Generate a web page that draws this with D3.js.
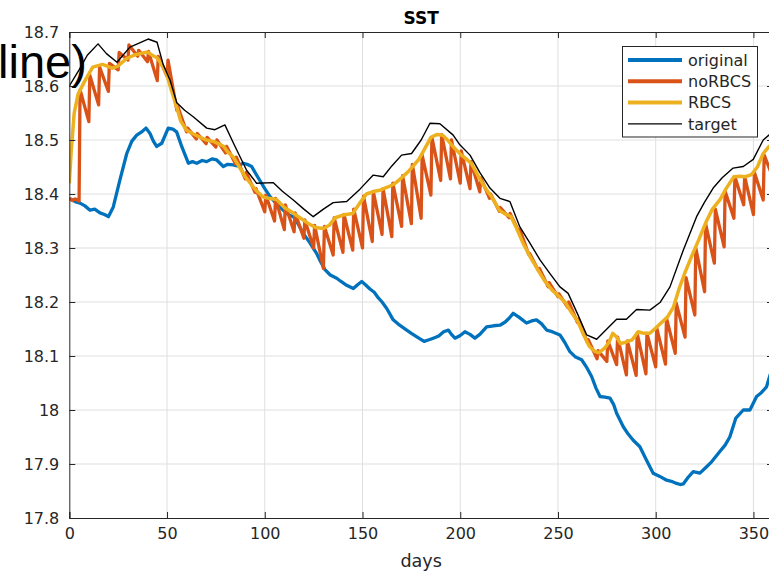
<!DOCTYPE html>
<html><head><meta charset="utf-8">
<script src="https://cdn.jsdelivr.net/npm/d3@7"></script>
<style>body{margin:0;background:#fff;overflow:hidden}svg{display:block}</style>
</head><body>
<svg id="chart" width="769" height="572"></svg>
<script>
// ---------- data ----------
const xTicks = [0, 50, 100, 150, 200, 250, 300, 350];
const yTicks = [17.8, 17.9, 18, 18.1, 18.2, 18.3, 18.4, 18.5, 18.6, 18.7];
const seriesNames = ["original", "noRBCS", "RBCS", "target"];
const seriesColors = ["#0072BD", "#D95319", "#EDB120", "#000000"];

const original = [[0,18.392],[3,18.386],[5.5,18.383],[8,18.378],[10.6,18.37],[13,18.372],[15.7,18.365],[18,18.362],[20,18.358],[22.5,18.376],[25.9,18.426],[29.4,18.475],[32,18.498],[34.5,18.509],[37,18.515],[39.2,18.522],[41.3,18.512],[43,18.498],[44.7,18.488],[47.3,18.494],[50.6,18.522],[53,18.52],[54.9,18.515],[57.5,18.488],[60.9,18.457],[63,18.46],[65.2,18.457],[68,18.462],[70.3,18.46],[73,18.465],[75.4,18.463],[78.8,18.451],[81,18.455],[83.9,18.454],[86,18.452],[89,18.457],[91,18.455],[93.3,18.451],[95,18.44],[97.5,18.425],[100,18.41],[102.7,18.395],[106,18.382],[109.5,18.37],[112,18.362],[114.6,18.358],[117,18.345],[119.7,18.327],[123,18.31],[126.5,18.29],[128.5,18.275],[130.8,18.26],[133.5,18.25],[136.8,18.244],[139,18.238],[141.9,18.231],[145.3,18.225],[147.5,18.232],[149.6,18.238],[151.5,18.232],[153.8,18.224],[156,18.218],[158,18.208],[160,18.2],[162.4,18.188],[165.7,18.167],[169,18.157],[172.6,18.148],[175,18.142],[178,18.135],[181.5,18.127],[184,18.13],[186.2,18.133],[189,18.137],[191.5,18.145],[193.9,18.148],[195.5,18.14],[197.3,18.133],[200,18.138],[202.4,18.145],[205,18.14],[207.5,18.133],[210,18.14],[213.5,18.154],[217,18.156],[220.3,18.157],[223,18.163],[225,18.17],[227.1,18.179],[230,18.172],[233.9,18.161],[236.5,18.165],[239,18.167],[241.5,18.16],[244.2,18.148],[247,18.145],[251,18.139],[253.5,18.125],[256.1,18.108],[259,18.098],[262.1,18.093],[264.5,18.08],[267.2,18.062],[269.5,18.04],[271.5,18.025],[274,18.024],[276.6,18.022],[278.5,18.01],[280,17.994],[283.4,17.969],[286,17.955],[288.5,17.944],[291.9,17.932],[295.3,17.907],[298.7,17.883],[302.1,17.877],[305.6,17.87],[308,17.868],[310.7,17.864],[312.5,17.862],[314.1,17.863],[316.5,17.875],[319.2,17.886],[322.6,17.883],[325.5,17.893],[328.6,17.904],[332.8,17.923],[335.5,17.935],[337.9,17.95],[341,17.985],[344.8,18.0],[348.2,18.0],[351.6,18.025],[354,18.032],[356.7,18.043],[358.5,18.065],[360,18.075]];

const noRBCS = [[0,18.392],[1.5,18.388],[3,18.391],[5,18.387],[5.5,18.593],[10,18.534],[10.5,18.62],[15,18.565],[15.5,18.635],[20,18.59],[20.5,18.642],[25,18.63],[25.5,18.662],[30,18.648],[30.5,18.676],[35,18.655],[35.5,18.666],[40,18.645],[40.5,18.664],[45,18.61],[45.5,18.655],[50,18.618],[50.5,18.648],[55,18.555],[55.5,18.562],[60,18.515],[60.5,18.522],[65,18.502],[65.5,18.512],[70,18.493],[70.5,18.505],[75,18.487],[75.5,18.5],[80,18.476],[80.5,18.488],[85,18.456],[85.5,18.468],[90,18.428],[90.5,18.44],[95,18.403],[95.5,18.41],[100,18.367],[100.5,18.398],[105,18.35],[105.5,18.392],[110,18.334],[110.5,18.38],[115,18.33],[115.5,18.365],[120,18.318],[120.5,18.352],[125,18.3],[125.5,18.342],[130,18.262],[130.5,18.34],[135,18.287],[135.5,18.356],[140,18.292],[140.5,18.362],[145,18.296],[145.5,18.372],[150,18.3],[150.5,18.396],[155,18.312],[155.5,18.405],[160,18.325],[160.5,18.41],[165,18.321],[165.5,18.42],[170,18.34],[170.5,18.434],[175,18.345],[175.5,18.455],[180,18.355],[180.5,18.472],[185,18.398],[185.5,18.505],[190,18.425],[190.5,18.51],[195,18.428],[195.5,18.5],[200,18.42],[200.5,18.48],[205,18.41],[205.5,18.46],[210,18.404],[210.5,18.43],[215,18.392],[215.5,18.4],[220,18.368],[220.5,18.375],[225,18.356],[225.5,18.364],[230,18.33],[230.5,18.334],[235,18.288],[235.5,18.29],[240,18.258],[240.5,18.262],[245,18.228],[245.5,18.236],[250,18.21],[250.5,18.215],[255,18.19],[255.5,18.2],[260,18.162],[260.5,18.168],[265,18.125],[265.5,18.13],[270,18.095],[270.5,18.11],[275,18.09],[275.5,18.128],[280,18.084],[280.5,18.135],[285,18.065],[285.5,18.128],[290,18.064],[290.5,18.142],[295,18.067],[295.5,18.142],[300,18.08],[300.5,18.152],[305,18.085],[305.5,18.17],[310,18.105],[310.5,18.198],[315,18.135],[315.5,18.245],[320,18.176],[320.5,18.3],[325,18.219],[325.5,18.345],[330,18.272],[330.5,18.372],[335,18.302],[335.5,18.405],[340,18.355],[340.5,18.432],[345,18.38],[345.5,18.432],[350,18.362],[350.5,18.44],[355,18.389],[355.5,18.472],[360,18.43]];

const RBCS = [[0,18.42],[1,18.48],[2.5,18.55],[4.5,18.585],[8,18.61],[12,18.635],[17,18.64],[22,18.633],[25,18.637],[29,18.65],[33,18.657],[36,18.66],[40,18.663],[42,18.658],[45,18.652],[48,18.635],[50,18.62],[52,18.595],[55,18.56],[57,18.535],[60,18.518],[63,18.512],[67,18.505],[70,18.5],[74,18.497],[77,18.492],[79,18.488],[81,18.478],[84,18.468],[87,18.45],[90,18.432],[93,18.418],[96,18.405],[99,18.395],[102,18.392],[106,18.39],[110,18.375],[114,18.366],[118,18.356],[122,18.346],[126,18.338],[130,18.336],[133,18.342],[136,18.356],[140,18.361],[145,18.364],[149,18.385],[152,18.4],[156,18.405],[159,18.407],[163,18.413],[166,18.418],[170,18.43],[173,18.44],[176,18.452],[179,18.465],[182,18.485],[185,18.505],[188,18.51],[191,18.509],[194,18.498],[197,18.485],[200,18.474],[203,18.465],[206,18.455],[210,18.428],[213,18.41],[216,18.395],[220,18.37],[223,18.363],[226,18.358],[229,18.335],[232,18.31],[236,18.282],[240,18.258],[243,18.24],[247,18.222],[250,18.212],[254,18.198],[257,18.18],[260,18.165],[263,18.14],[266,18.118],[269,18.108],[271,18.106],[274,18.115],[276,18.125],[278,18.142],[280,18.135],[282,18.123],[285,18.126],[288,18.13],[291,18.145],[294,18.142],[297,18.142],[300,18.152],[303,18.162],[306,18.172],[309,18.19],[312,18.225],[315,18.255],[319,18.29],[322,18.315],[326,18.35],[329,18.372],[333,18.39],[336,18.41],[340,18.432],[343,18.433],[346,18.432],[349,18.436],[352,18.45],[355,18.475],[358,18.488],[360,18.492]];

const target = [[0,18.6],[5,18.63],[9.2,18.657],[14.7,18.678],[19,18.66],[24.4,18.644],[31,18.672],[36,18.68],[40.3,18.687],[44.9,18.681],[48,18.64],[51.5,18.611],[55,18.569],[59,18.555],[63.4,18.543],[70.3,18.522],[74.5,18.519],[79.6,18.528],[84,18.494],[90.7,18.444],[95.8,18.42],[104.4,18.421],[109,18.405],[114.6,18.389],[120,18.372],[124.8,18.358],[130,18.372],[135,18.384],[141.9,18.386],[148.7,18.409],[155.5,18.435],[160.6,18.432],[165,18.452],[170,18.472],[175.1,18.475],[180,18.5],[184.5,18.531],[189.6,18.53],[196.4,18.509],[199.8,18.491],[205,18.472],[210,18.44],[215.2,18.411],[220.3,18.392],[225.4,18.386],[230.5,18.339],[235.5,18.31],[240.8,18.278],[246,18.252],[251,18.228],[255.2,18.216],[260,18.178],[264.7,18.139],[269.8,18.131],[275,18.15],[280,18.168],[285,18.168],[290.2,18.186],[297,18.185],[302.2,18.199],[307.3,18.228],[314.1,18.296],[320.9,18.358],[325,18.385],[329.4,18.411],[334,18.43],[339.6,18.448],[344.8,18.451],[349.9,18.464],[355,18.5],[357.9,18.509],[360,18.515]];

const seriesData = [original, noRBCS, RBCS, target];
const seriesWidths = [3.3, 3.3, 3.5, 1.4];

// ---------- layout ----------
const svg = d3.select("#chart");
const pLeft = 69.3, pRight = 773, pTop = 32, pBottom = 518;
const x = d3.scaleLinear().domain([0, 360]).range([pLeft, pRight]);
const y = d3.scaleLinear().domain([17.8, 18.7]).range([pBottom, pTop]);
const axisColor = "#262626";
const font = "'DejaVu Sans', sans-serif";

// grid
const g = svg.append("g");
g.selectAll(".vg").data(xTicks.filter(t => t > 0)).enter().append("line")
  .attr("x1", d => x(d)).attr("x2", d => x(d)).attr("y1", pTop).attr("y2", pBottom)
  .attr("stroke", "#dfdfdf").attr("stroke-width", 1);
g.selectAll(".hg").data(yTicks.filter(t => t > 17.8 && t < 18.7)).enter().append("line")
  .attr("x1", pLeft).attr("x2", pRight).attr("y1", d => y(d)).attr("y2", d => y(d))
  .attr("stroke", "#dfdfdf").attr("stroke-width", 1);

// lines
svg.append("clipPath").attr("id", "clip").append("rect")
  .attr("x", pLeft).attr("y", pTop).attr("width", pRight - pLeft).attr("height", pBottom - pTop);
const line = d3.line().x(d => x(d[0])).y(d => y(d[1]));
const lg = svg.append("g").attr("clip-path", "url(#clip)");
seriesData.forEach((s, i) => {
  lg.append("path").datum(s).attr("d", line).attr("fill", "none")
    .attr("stroke", seriesColors[i]).attr("stroke-width", seriesWidths[i])
    .attr("stroke-linejoin", "round");
});

// axes (box with inward ticks)
const ax = svg.append("g");
const bottomAxis = d3.axisBottom(x).tickValues(xTicks).tickSize(-6).tickPadding(10).tickFormat(d => d);
const gb = ax.append("g").attr("transform", `translate(0,${pBottom})`).call(bottomAxis);
const topAxis = d3.axisTop(x).tickValues(xTicks).tickSize(-6).tickFormat("");
const gt = ax.append("g").attr("transform", `translate(0,${pTop})`).call(topAxis);
const leftAxis = d3.axisLeft(y).tickValues(yTicks).tickSize(-6).tickPadding(10)
  .tickFormat(d => String(+d.toFixed(1)));
const gl = ax.append("g").attr("transform", `translate(${pLeft},0)`).call(leftAxis);
const rightAxis = d3.axisRight(y).tickValues(yTicks).tickSize(-6).tickFormat("");
const gr = ax.append("g").attr("transform", `translate(${pRight},0)`).call(rightAxis);
[gb, gt, gl, gr].forEach(a => {
  a.select(".domain").attr("stroke", axisColor).attr("stroke-width", 1);
  a.selectAll(".tick line").attr("stroke", axisColor).attr("stroke-width", 1);
  a.selectAll("text").attr("fill", axisColor).style("font-family", font).style("font-size", "16px");
});
gb.selectAll("text").attr("dy", "0.71em");

// labels
svg.append("text").attr("x", (pLeft + pRight) / 2).attr("y", 24).attr("text-anchor", "middle")
  .style("font-family", font).style("font-size", "17px").style("font-weight", "bold")
  .attr("fill", "#000").text("SST");
svg.append("text").attr("x", (pLeft + pRight) / 2).attr("y", 567).attr("text-anchor", "middle")
  .style("font-family", font).style("font-size", "17.6px")
  .attr("fill", axisColor).text("days");

// legend
const lgd = svg.append("g");
lgd.append("rect").attr("x", 622.5).attr("y", 46.5).attr("width", 135).attr("height", 90.5)
  .attr("fill", "#fff").attr("stroke", axisColor).attr("stroke-width", 1);
seriesNames.forEach((n, i) => {
  const ry = 60 + i * 21.3;
  lgd.append("line").attr("x1", 628).attr("x2", 682).attr("y1", ry).attr("y2", ry)
    .attr("stroke", seriesColors[i]).attr("stroke-width", i < 3 ? 4 : 1.4);
  lgd.append("text").attr("x", 688).attr("y", ry).attr("dy", "0.36em")
    .style("font-family", font).style("font-size", "16px").attr("fill", axisColor).text(n);
});

// stray overlapping text (present in the reference)
svg.append("text").attr("x", -2).attr("y", 78)
  .style("font-family", "'Liberation Sans', Arial, sans-serif").style("font-size", "47px")
  .attr("fill", "#000").text("line)");
</script>
</body></html>
